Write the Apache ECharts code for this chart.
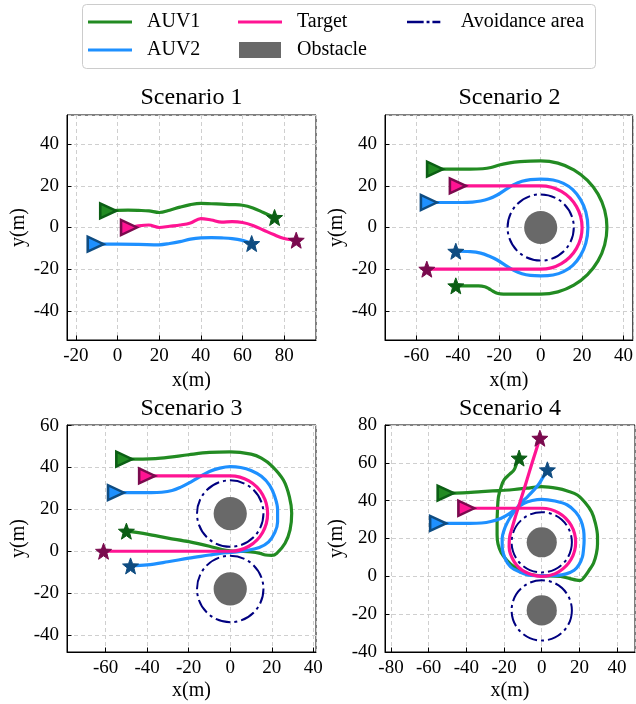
<!DOCTYPE html>
<html><head><meta charset="utf-8">
<script src="https://cdn.jsdelivr.net/npm/echarts@6/dist/echarts.min.js"></script>
<style>html,body{margin:0;padding:0;background:#fff}#c{width:636px;height:704px}</style>
</head><body><div id="c"></div>
<script>
// ---------------- data ----------------
const titles = ['Scenario 1', 'Scenario 2', 'Scenario 3', 'Scenario 4'];

const s1_auv1 = [[-4.5,8],[0,8.2],[5,8.3],[10,8.2],[15,8],[20,7.2],[25,8.3],[30,9.8],[35,11],[40,11.6],[45,11.4],[50,11.2],[55,11],[60,10.7],[65,9.4],[70,7.2],[75.4,4.8]];
const s1_auv2 = [[-10.5,-8],[0,-8],[10,-8.1],[20,-8.3],[25,-7.7],[30,-6.8],[35,-5.6],[40,-5],[45,-4.9],[50,-5],[55,-5.3],[60,-6.2],[64.4,-7.7]];
const s1_target = [[5.5,0],[10,0.8],[15,1.2],[20,0],[25,0.6],[30,1.2],[35,2.2],[40,4.3],[45,3.6],[50,2.6],[55,2.8],[60,2.4],[65,1],[70,-1.2],[75,-3.4],[80,-5.3],[85.8,-6.1]];

const s2_auv1 = [[-51,28],[-42,28],[-34,28],[-28,28.2],[-24,28.8],[-20,30],[-15,31],[-10,31.6],[-5,31.9],[0,32],[8.3,30.9],[16,27.7],[22.6,22.6],[27.7,16],[30.9,8.3],[32,0],[30.9,-8.3],[27.7,-16],[22.6,-22.6],[16,-27.7],[8.3,-30.9],[0,-32],[-10,-32],[-18,-32],[-21,-31.6],[-23,-30.6],[-25,-29.4],[-27,-28.4],[-30,-28],[-35,-28],[-41,-28]];
const s2_auv2 = [[-54,12],[-46,12],[-38,12],[-33,12.2],[-29,12.7],[-25,13.8],[-21,15.6],[-17,18.2],[-13,20.6],[-9,22.2],[-5,23],[0,23.2],[6,22.8],[11,21.2],[15.5,18.2],[19.2,13.5],[21.8,7.5],[22.8,0],[21.8,-7.5],[19.2,-13.5],[15.5,-18.2],[11,-21.2],[6,-22.8],[0,-23.2],[-5,-23],[-9,-22.2],[-13,-20.6],[-17,-18.2],[-21,-15.6],[-25,-13.7],[-29,-12.3],[-34,-11.6],[-41,-11.4]];
const s2_target = [[-40,20],[-30,20],[-20,20],[-10,20],[0,20],[10,17.3],[17.3,10],[20,0],[17.3,-10],[10,-17.3],[0,-20],[-10,-20],[-20,-20],[-30,-20],[-40,-20],[-55,-20]];

const s3_auv1 = [[-51,44],[-42,44],[-36,44.2],[-30,44.8],[-20,46.1],[-10,47.2],[0,47.5],[10,46.4],[15,44.5],[20,40.8],[25.6,34],[28.5,26],[29.6,18.2],[28.8,10.2],[26.4,3.8],[22.4,-1],[20,-2],[17,-1.8],[14.4,-1],[10,-0.3],[5,0],[0,0.2],[-4,0.8],[-10,2.4],[-20,4.6],[-30,6.3],[-40,8.2],[-50,9.6]];
const s3_auv2 = [[-55,28],[-46,28],[-38,28],[-33,28.2],[-28,29],[-24,30.5],[-20,32.5],[-15,35.4],[-10,38.1],[-5,39.7],[0,40.4],[5,40],[10,38.6],[15,35.8],[19,31.5],[21.5,26],[22.8,20],[22.8,14],[21.5,9],[18.5,4.5],[14,1.8],[8,0.4],[2,-0.4],[-5,-1],[-10,-1.8],[-20,-3.3],[-30,-5],[-40,-6.5],[-48,-7]];
const s3_target = [[-40,36],[-30,36],[-20,36],[-10,36],[0,36],[9,33.6],[15.6,27],[18,18],[15.6,9],[9,2.4],[0,0],[-10,0],[-20,0],[-30,0],[-40,0],[-50,0],[-61,0]];

const s4_auv1 = [[-51,44],[-42,44.1],[-32,44.8],[-20,45.5],[-14.7,45.9],[-8,46.6],[0,47.4],[8.3,46.5],[14,45],[18.9,43],[23,39],[26.5,34],[28.5,28],[29.6,21],[29.6,17],[29,12],[27.5,7],[25,3],[22.5,-0.5],[20.7,-2.1],[18.5,-2],[15,-1.2],[10,0],[0,0.3],[-6,1],[-10.5,2.5],[-14.7,5],[-18.5,8.5],[-21.5,12.5],[-23.2,17],[-23.7,22],[-23.7,28],[-23.5,35],[-23,42],[-21.5,47.5],[-20,51],[-17,54],[-14.7,56.3],[-13.4,59.5],[-12,62.5]];
const s4_auv2 = [[-55,28],[-46,28],[-38,28],[-32,28.2],[-27,29],[-21.8,30.6],[-18,32.6],[-14.7,35],[-9.4,38.6],[-5,40.1],[0,40.7],[7,39.8],[13.6,37.7],[18,34],[20.7,29.7],[22.2,24.5],[22.5,19.1],[22.2,14.5],[21.6,10.3],[19.8,6.2],[17.2,3.2],[13,1.3],[8.3,0.5],[1,0.4],[-5.8,0.5],[-11.5,2.2],[-16.5,5],[-19.5,9.5],[-21,15.6],[-21,20],[-20,24.4],[-18.5,28],[-16.5,31.5],[-14,35],[-11.2,38.6],[-7.5,42.2],[-4.1,45.7],[-1.5,48.8],[0.4,51.9],[1.8,54.2],[3,56.3]];
const s4_target = [[-40,36],[-30,36],[-20,36],[-10,36],[0,36],[9,33.6],[15.6,27],[18,18],[15.6,9],[9,2.4],[0,0],[-9,2.4],[-14.5,7.5],[-17.3,15.6],[-17,21],[-15.6,26],[-14.2,30.8],[-12.6,35.9],[-9.1,47],[-5.1,60],[-1,73]];

// obstacles: [x, y, radius]
const s1_obstacles = [];
const s2_obstacles = [[0,0,8]];
const s3_obstacles = [[0,18,8],[0,-18,8]];
const s4_obstacles = [[0,18,8],[0,-18,8]];
// avoidance areas: [x, y, radius]
const s1_avoid = [];
const s2_avoid = [[0,0,16]];
const s3_avoid = [[0,18,16],[0,-18,16]];
const s4_avoid = [[0,18,16],[0,-18,16]];

// ---------------- styling ----------------
const F = "'Liberation Serif','Times New Roman',serif";
const COL = {AUV1:'#228B22', AUV2:'#1E90FF', Target:'#FF1493'};
const DARK = {AUV1:'#0B5E14', AUV2:'#0F4C81', Target:'#7A0A4E'};
const NAVY = '#000080', GRAY = '#696969';
const STAR = 'path://M10,0L12.47,6.6L19.51,6.91L13.99,11.3L15.88,18.09L10,14.2L4.12,18.09L6.01,11.3L0.49,6.91L7.53,6.6Z';
const DASHDOT = 'path://M0,0H20V3H0Z M23.5,0H27V3H23.5Z M30.5,0H40V3H30.5Z';
const BAR = 'path://M0,0H44V3H0Z';

const grids = [
  {left:67, top:115, width:249, height:225},
  {left:385, top:115, width:249, height:225},
  {left:67, top:425, width:249, height:227},
  {left:385, top:425, width:250, height:227}
];
const xRanges = [[-24.3,95.3],[-75.2,44.5],[-78.6,41.3],[-83.2,49.5]];
const yRanges = [[-54,54],[-54,54],[-48.1,60.3],[-40,80]];
const titleTops = [86, 86, 397, 397];

const scen = [
  {AUV1:s1_auv1, AUV2:s1_auv2, Target:s1_target, obs:s1_obstacles, avoid:s1_avoid},
  {AUV1:s2_auv1, AUV2:s2_auv2, Target:s2_target, obs:s2_obstacles, avoid:s2_avoid},
  {AUV1:s3_auv1, AUV2:s3_auv2, Target:s3_target, obs:s3_obstacles, avoid:s3_avoid},
  {AUV1:s4_auv1, AUV2:s4_auv2, Target:s4_target, obs:s4_obstacles, avoid:s4_avoid}
];

function circleRender(filled) {
  return function (params, api) {
    const c = api.coord([api.value(0), api.value(1)]);
    const r = api.size([api.value(2), 0])[0];
    return {type:'circle', shape:{cx:c[0], cy:c[1], r:r},
      style: filled ? {fill:GRAY, stroke:null} : {fill:null, stroke:NAVY, lineWidth:2, lineDash:[15,4,3,4]}};
  };
}

const series = [];
const xAxis = [], yAxis = [], title = [];
scen.forEach((s, i) => {
  const gx = grids[i];
  title.push({text:titles[i], left:gx.left + gx.width/2, top:titleTops[i], textAlign:'center', padding:0,
    textStyle:{fontFamily:F, fontSize:24, fontWeight:'normal', color:'#000'}});
  const common = {
    type:'value', gridIndex:i, splitNumber:6,
    nameLocation:'middle', nameTextStyle:{fontFamily:F, fontSize:20, color:'#000'},
    axisLine:{show:true, onZero:false, lineStyle:{color:'#000', width:1}},
    axisTick:{show:true, inside:true, length:4.5, lineStyle:{color:'#000', width:1}},
    splitLine:{show:true, lineStyle:{color:'#cfcfcf', type:[4,3], width:1}}
  };
  xAxis.push(Object.assign({}, common, {position:'bottom', min:xRanges[i][0], max:xRanges[i][1], name:'x(m)', nameGap: i<2 ? 31 : 29,
    axisLabel:{fontFamily:F, fontSize:19, color:'#000', margin:7, showMinLabel:false, showMaxLabel:false}}));
  yAxis.push(Object.assign({}, common, {position:'left', min:yRanges[i][0], max:yRanges[i][1], name:'y(m)', nameGap:38,
    axisLabel:{fontFamily:F, fontSize:19, color:'#000', margin:8, showMinLabel:i===3, showMaxLabel:i===3}}));
  if (s.obs.length) series.push({type:'custom', name:'Obstacle', xAxisIndex:i, yAxisIndex:i, data:s.obs,
    encode:{x:0, y:1}, itemStyle:{color:GRAY}, renderItem:circleRender(true), z:1, silent:true});
  if (s.avoid.length) series.push({type:'custom', name:'Avoidance area', xAxisIndex:i, yAxisIndex:i, data:s.avoid,
    encode:{x:0, y:1}, itemStyle:{color:NAVY}, renderItem:circleRender(false), z:2, silent:true});
  ['AUV1','AUV2','Target'].forEach(k => {
    series.push({type:'line', name:k, xAxisIndex:i, yAxisIndex:i, data:s[k], symbol:'none', showSymbol:false,
      smooth:0.35, lineStyle:{color:COL[k], width:3.2}, itemStyle:{color:COL[k]}, z:3, silent:true});
  });
  const marks = [];
  ['AUV1','AUV2','Target'].forEach(k => {
    const d = s[k];
    marks.push({value:d[0], symbol:'triangle', symbolRotate:-90, symbolSize:[15,16],
      itemStyle:{color:COL[k], borderColor:DARK[k], borderWidth:2.5, opacity:1}});
    marks.push({value:d[d.length-1], symbol:STAR, symbolSize:16,
      itemStyle:{color:DARK[k], borderColor:DARK[k], borderWidth:1, opacity:1}});
  });
  series.push({type:'scatter', name:'markers'+i, xAxisIndex:i, yAxisIndex:i, data:marks, z:5, silent:true,
    itemStyle:{opacity:1}});
});

const LT = {fontFamily:F, fontSize:20, color:'#000'};
function leg(name, icon, left, top, w, h, pad) {
  return {data:[{name:name, icon:icon, itemStyle:{opacity:1}}], left:left, top:top, itemWidth:w, itemHeight:h, padding:0,
    selectedMode:false, textStyle:Object.assign({padding:[0,0,0,pad]}, LT)};
}
const legend = [
  leg('AUV1', BAR, 88, 12, 44, 3, 10),
  leg('AUV2', BAR, 88, 40, 44, 3, 10),
  leg('Target', BAR, 238, 12, 44, 3, 10),
  leg('Obstacle', 'rect', 239, 40, 42, 16, 11),
  leg('Avoidance area', DASHDOT, 407, 12, 40, 2.5, 12)
];

const chart = echarts.init(document.getElementById('c'), null, {renderer:'canvas'});
chart.setOption({
  animation:false,
  backgroundColor:'#fff',
  title, legend,
  grid: grids.map(g => Object.assign({show:true, borderColor:'#000', borderWidth:1, backgroundColor:'transparent'}, g)),
  xAxis, yAxis, series,
  graphic:[{type:'rect', shape:{x:82.5, y:4.5, width:513, height:64, r:4},
    style:{fill:null, stroke:'#cccccc', lineWidth:1}, z:100, silent:true}]
});
</script></body></html>
